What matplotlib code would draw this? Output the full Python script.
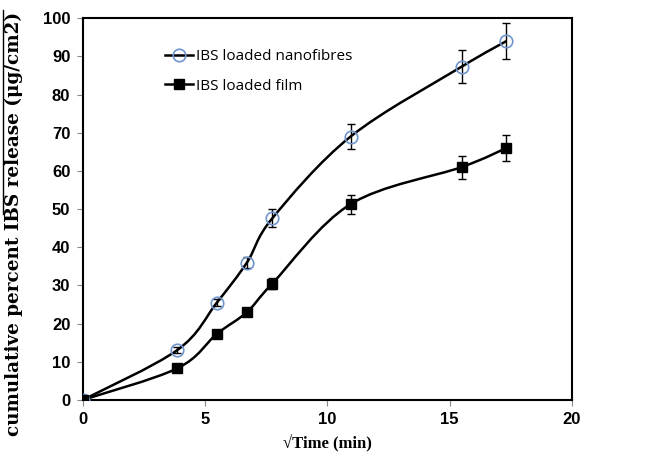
import numpy as np
import matplotlib
matplotlib.use("Agg")
import matplotlib.pyplot as plt
from matplotlib.path import Path
from matplotlib.patches import PathPatch
from matplotlib.lines import Line2D

sqrt_time = [0, 3.87, 5.48, 6.71, 7.75, 10.95, 15.49, 17.32]
nano = [0, 13.1, 25.5, 36.0, 47.6, 69.0, 87.3, 94.0]
nano_err = [0, 0.8, 1.0, 1.5, 2.4, 3.2, 4.3, 4.7]
film = [0, 8.3, 17.3, 23.0, 30.5, 51.3, 61.0, 66.0]
film_err = [0, 0.5, 0.7, 0.8, 1.5, 2.5, 3.0, 3.4]
xticks = [0, 5, 10, 15, 20]
yticks = [0, 10, 20, 30, 40, 50, 60, 70, 80, 90, 100]


def smooth_path(xs, ys, t=1/6):
    pts = np.column_stack([xs, ys])
    verts = [pts[0]]
    codes = [Path.MOVETO]
    n = len(pts)
    for i in range(n - 1):
        p0 = pts[i - 1] if i > 0 else pts[i]
        p1 = pts[i]
        p2 = pts[i + 1]
        p3 = pts[i + 2] if i + 2 < n else pts[i + 1]
        c1 = p1 + (p2 - p0) * t
        c2 = p2 - (p3 - p1) * t
        verts += [c1, c2, p2]
        codes += [Path.CURVE4] * 3
    return Path(verts, codes)


fig = plt.figure(figsize=(6.47, 4.55), dpi=100)
ax = fig.add_axes([0.128, 0.121, 0.756, 0.839])

for ys in (nano, film):
    ax.add_patch(PathPatch(smooth_path(sqrt_time, ys), fill=False,
                           edgecolor="black", lw=1.8, zorder=2))

ax.errorbar(sqrt_time, nano, yerr=nano_err, fmt="none", ecolor="black",
            elinewidth=1, capsize=3, zorder=3)
ax.errorbar(sqrt_time, film, yerr=film_err, fmt="none", ecolor="black",
            elinewidth=1, capsize=3, zorder=3)
ax.plot(sqrt_time, nano, ls="none", marker="o", ms=9, mfc="none",
        mec="#6f95cc", mew=1.2, zorder=4)
ax.plot(sqrt_time, film, ls="none", marker="s", ms=7, mfc="black",
        mec="black", zorder=4)

ax.set_xlim(0, 20)
ax.set_ylim(0, 100)
ax.set_xticks(xticks)
ax.set_yticks(yticks)
for lab in ax.get_xticklabels() + ax.get_yticklabels():
    lab.set_fontfamily("Liberation Sans")
    lab.set_fontweight("bold")
    lab.set_fontsize(12)
ax.tick_params(direction="out", length=4, width=0.8, color="#888888", pad=5)
for s in ax.spines.values():
    s.set_linewidth(1.5)
    s.set_color("black")

ax.set_xlabel("√Time (min)", family="Liberation Serif", fontweight="bold",
              fontsize=12)
ax.xaxis.set_label_coords(0.5, -0.092)
ax.set_ylabel("cumulative percent IBS release (μg/cm2)", family="DejaVu Serif",
              fontweight="bold", fontsize=13.2)
ax.yaxis.set_label_coords(-0.122, 0.46)

h1 = Line2D([], [], color="black", lw=1.8, marker="o", ms=9, mfc="none",
            mec="#6f95cc", mew=1.2)
h2 = Line2D([], [], color="black", lw=1.8, marker="s", ms=7, mfc="black",
            mec="black")
leg = ax.legend([h1, h2], ["IBS loaded nanofibres", "IBS loaded film"],
                loc="upper left", bbox_to_anchor=(0.14, 0.955), frameon=False,
                prop={"family": "Open Sans", "size": 11}, handlelength=1.8,
                handletextpad=0.25, labelspacing=0.95)

# overline decoration at left of y label
fig.add_artist(Line2D([0.004, 0.004], [0.53, 0.978], color="black", lw=1.0,
                      transform=fig.transFigure))

fig.savefig("out.png", dpi=100)
